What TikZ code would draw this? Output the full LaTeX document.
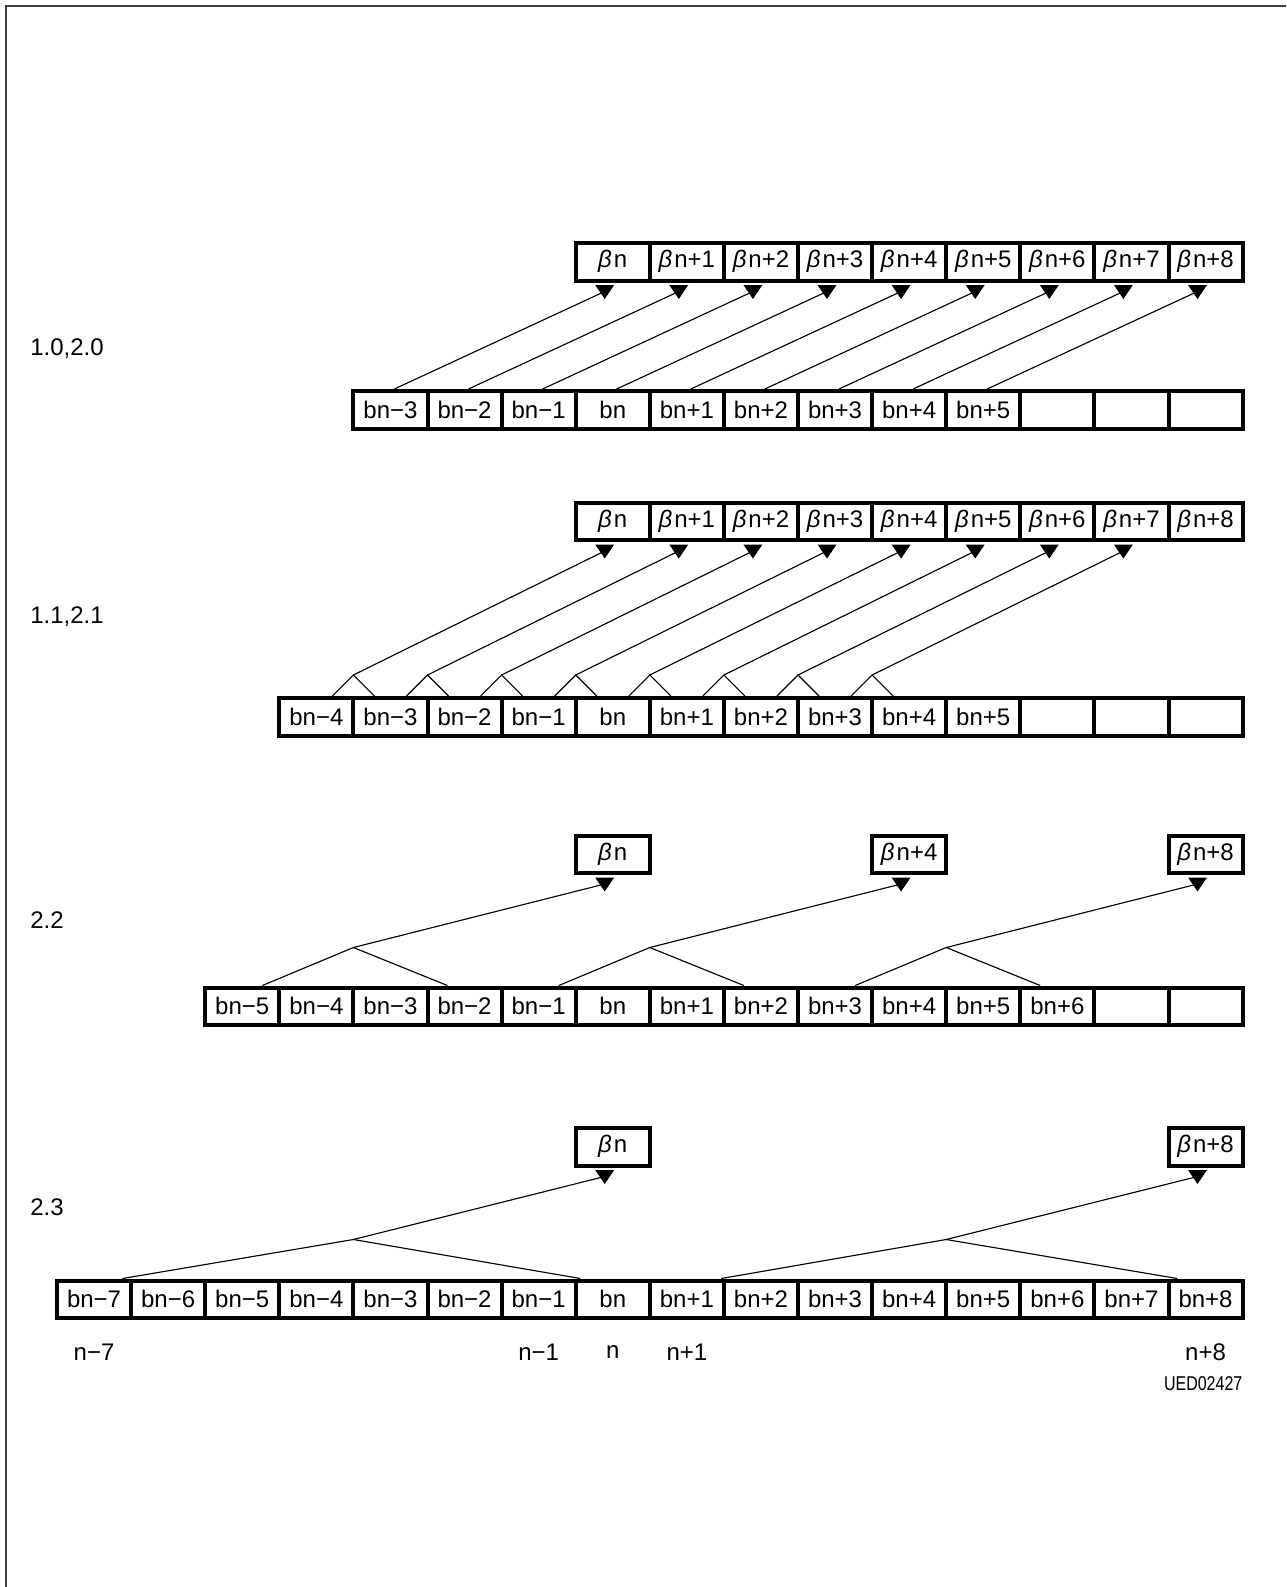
\documentclass[tikz,border=0pt]{standalone}
\usepackage{fontspec}
\setmainfont{Liberation Sans}
\usetikzlibrary{calc}
\newcommand\cellname[1]{\ifnum#1<0 bn−\number\numexpr 0-(#1)\relax\else\ifnum#1=0 bn\else bn+#1\fi\fi}
\newcommand\betaname[1]{{\itshape β}\hspace{1.5pt}n\ifnum#1>0 +#1\fi}
\tikzset{
  cell/.style={draw, line width=3pt, minimum width=55.575pt, minimum height=28.125pt,
               inner sep=0pt, font=\fontsize{18}{20}\selectfont},
  link/.style={line width=0.85pt},
  lbl/.style={font=\fontsize{18}{20}\selectfont, inner sep=0pt},
  frame/.style={draw=black!75, line width=1.2pt},
  tiphead/.style={fill=black},
}
\begin{document}
\begin{tikzpicture}[x=0.75pt,y=-0.75pt]
\useasboundingbox (0,0) rectangle (1286,1587);
\draw[frame] (1286,6) -- (6,6) -- (6,1587);

% ---------- row 1 : 1.0,2.0 ----------
\node[lbl, anchor=west] (lab1) at (30,349) {1.0,2.0};
\foreach \k in {7,...,15}{
  \pgfmathtruncatemacro\o{\k-7}
  \node[cell] (r1t\k) at ({94.05+74.1*\k},261.75) {\betaname{\o}};
  \coordinate (r1a\k) at ($(r1t\k.south west)+(31,9)$);
  \fill[tiphead] (r1a\k) +(0,7.5) -- +(-9.5,-6.5) -- +(9.5,-6.5) -- cycle;
}
\foreach \k in {4,...,15}{
  \pgfmathtruncatemacro\o{\k-7}
  \node[cell] (r1b\k) at ({94.05+74.1*\k},409.75) {\ifnum\k<13 \cellname{\o}\fi};
}
\foreach \k in {4,...,12}{
  \pgfmathtruncatemacro\j{\k+3}
  \draw[link] ($(r1b\k.north west)+(43,0)$) -- (r1a\j);
}

% ---------- row 2 : 1.1,2.1 ----------
\node[lbl, anchor=west] (lab2) at (30,617) {1.1,2.1};
\foreach \k in {7,...,15}{
  \pgfmathtruncatemacro\o{\k-7}
  \node[cell] (r2t\k) at ({94.05+74.1*\k},521.25) {\betaname{\o}};
  \coordinate (r2a\k) at ($(r2t\k.south west)+(31,9)$);
}
\foreach \k in {7,...,14}{
  \fill[tiphead] (r2a\k) +(0,7.5) -- +(-9.5,-6.5) -- +(9.5,-6.5) -- cycle;
}
\foreach \k in {3,...,15}{
  \pgfmathtruncatemacro\o{\k-7}
  \node[cell] (r2b\k) at ({94.05+74.1*\k},716.75) {\ifnum\k<13 \cellname{\o}\fi};
}
\foreach \k in {4,...,11}{
  \pgfmathtruncatemacro\j{\k+3}
  \coordinate (r2p\k) at ($(r2b\k.north west)+(2,-21)$);
  \draw[link] ($(r2b\k.north west)+(-19,0)$) -- (r2p\k) -- ($(r2b\k.north west)+(23,0)$);
  \draw[link] (r2p\k) -- (r2a\j);
}

% ---------- row 3 : 2.2 ----------
\node[lbl, anchor=west] (lab3) at (30,920) {2.2};
\foreach \k in {7,11,15}{
  \pgfmathtruncatemacro\o{\k-7}
  \node[cell] (r3t\k) at ({94.05+74.1*\k},854.25) {\betaname{\o}};
  \coordinate (r3a\k) at ($(r3t\k.south west)+(31,9)$);
  \fill[tiphead] (r3a\k) +(0,7.5) -- +(-9.5,-6.5) -- +(9.5,-6.5) -- cycle;
}
\foreach \k in {2,...,15}{
  \pgfmathtruncatemacro\o{\k-7}
  \node[cell] (r3b\k) at ({94.05+74.1*\k},1006.25) {\ifnum\k<14 \cellname{\o}\fi};
}
\foreach \k in {4,8,12}{
  \pgfmathtruncatemacro\j{\k+3}
  \coordinate (r3p\k) at ($(r3b\k.north west)+(2,-38)$);
  \draw[link] ($(r3b\k.north west)+(-89,0)$) -- (r3p\k) -- ($(r3b\k.north west)+(96,0)$);
  \draw[link] (r3p\k) -- (r3a\j);
}

% ---------- row 4 : 2.3 ----------
\node[lbl, anchor=west] (lab4) at (30,1207) {2.3};
\foreach \k in {7,15}{
  \pgfmathtruncatemacro\o{\k-7}
  \node[cell] (r4t\k) at ({94.05+74.1*\k},1146.75) {\betaname{\o}};
  \coordinate (r4a\k) at ($(r4t\k.south west)+(31,9)$);
  \fill[tiphead] (r4a\k) +(0,7.5) -- +(-9.5,-6.5) -- +(9.5,-6.5) -- cycle;
}
\foreach \k in {0,...,15}{
  \pgfmathtruncatemacro\o{\k-7}
  \node[cell] (r4b\k) at ({94.05+74.1*\k},1299.25) {\cellname{\o}};
}
\coordinate (r4p4) at ($(r4b4.north west)+(2,-39)$);
\coordinate (r4p12) at ($(r4b12.north west)+(2,-39)$);
\draw[link] ($(r4b4.north west)+(-229,0)$) -- (r4p4) -- ($(r4b4.north west)+(229,0)$);
\draw[link] ($(r4b12.north west)+(-223,0)$) -- (r4p12) -- ($(r4b12.north west)+(233,0)$);
\draw[link] (r4p4) -- (r4a7);
\draw[link] (r4p12) -- (r4a15);

% index labels
\node[lbl] (n0) at ($(r4b0.south)+(0,32)$) {n−7};
\node[lbl] (n6) at ($(r4b6.south)+(0,32)$) {n−1};
\node[lbl] (n7) at ($(r4b7.south)+(0,32)$) {n};
\node[lbl] (n8) at ($(r4b8.south)+(0,32)$) {n+1};
\node[lbl] (n15) at ($(r4b15.south)+(0,32)$) {n+8};
\node[anchor=east, inner sep=0pt] (code) at ($(r4b15.south east)+(-2,64)$)
  {\scalebox{0.8}[1]{\fontsize{15}{16}\selectfont UED02427}};
\end{tikzpicture}
\end{document}
